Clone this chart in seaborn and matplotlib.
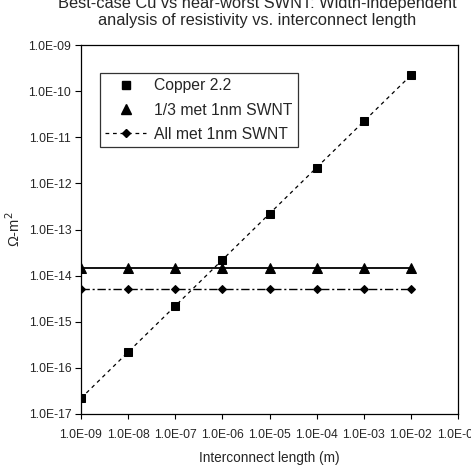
import matplotlib
matplotlib.use("Agg")
import matplotlib.pyplot as plt
from matplotlib.lines import Line2D
import seaborn as sns
import pandas as pd

# interconnect length (m)
longituds = [1e-9, 1e-8, 1e-7, 1e-6, 1e-5, 1e-4, 1e-3, 1e-2]
# resistivity x length values (Ohm-m^2)
coure = [2.2e-17, 2.2e-16, 2.2e-15, 2.2e-14, 2.2e-13, 2.2e-12, 2.2e-11, 2.2e-10]
swnt_terc = [1.5e-14, 1.5e-14, 1.5e-14, 1.5e-14, 1.5e-14, 1.5e-14, 1.5e-14, 1.5e-14]
swnt_tots = [5.2e-15, 5.2e-15, 5.2e-15, 5.2e-15, 5.2e-15, 5.2e-15, 5.2e-15, 5.2e-15]
noms = ["Copper 2.2", "1/3 met 1nm SWNT", "All met 1nm SWNT"]
xticks = [1e-9, 1e-8, 1e-7, 1e-6, 1e-5, 1e-4, 1e-3, 1e-2, 1e-1]
yticks = [1e-17, 1e-16, 1e-15, 1e-14, 1e-13, 1e-12, 1e-11, 1e-10, 1e-9]

df = pd.DataFrame({"L": longituds, noms[0]: coure, noms[1]: swnt_terc, noms[2]: swnt_tots})

sns.set_style("white")
plt.rcParams["font.family"] = ["Liberation Sans", "DejaVu Sans"]

fig = plt.figure(figsize=(4.71, 4.76), dpi=100)
ax = fig.add_axes([81 / 471, 1 - 414 / 476, 377 / 471, 369 / 476])

sns.lineplot(data=df, x="L", y=noms[0], ax=ax, color="black", marker="s", markersize=5.5,
             linestyle=(0, (3, 3)), linewidth=0.9, markeredgecolor="black")
sns.lineplot(data=df, x="L", y=noms[1], ax=ax, color="black", marker="^", markersize=6.5,
             linewidth=1.3, markeredgecolor="black")
sns.lineplot(data=df, x="L", y=noms[2], ax=ax, color="black", marker="D", markersize=4,
             linestyle=(0, (6, 2, 1.5, 2)), linewidth=1.0, markeredgecolor="black")

ax.set_xscale("log")
ax.set_yscale("log")
ax.set_xlim(1e-9, 1e-1)
ax.set_ylim(1e-17, 1e-9)
ax.set_xticks(xticks)
ax.set_yticks(yticks)
ax.set_xticklabels([f"{v:.1E}" for v in xticks])
ax.set_yticklabels([f"{v:.1E}" for v in yticks])
ax.minorticks_off()
ax.tick_params(axis="x", direction="out", length=3.5, width=0.8, pad=7.5, labelsize=8.7, color="black")
ax.tick_params(axis="y", direction="out", length=4, width=0.8, pad=3, labelsize=8.7, color="black")
ax.xaxis.set_ticks_position("bottom")
ax.yaxis.set_ticks_position("left")
for s in ax.spines.values():
    s.set_color("black")
    s.set_linewidth(0.9)

ax.set_xlabel("Interconnect length (m)", fontsize=9.8, labelpad=7)
ax.set_ylabel("Ω-m$^2$", fontsize=10.5, labelpad=4)

# llegenda com la d'Excel
handles = [
    Line2D([], [], color="black", marker="s", markersize=5.5, linestyle="none"),
    Line2D([], [], color="black", marker="^", markersize=6.5, linestyle="none"),
    Line2D([], [], color="black", marker="D", markersize=4, linestyle=(0, (3, 3)), linewidth=0.9),
]
leg = ax.legend(handles, noms, loc="upper left", bbox_to_anchor=(19 / 377, 1 - 28 / 369),
                frameon=True, fancybox=False, edgecolor="black", fontsize=11.3,
                handlelength=2.6, borderpad=0.35, labelspacing=0.58, handletextpad=0.5,
                borderaxespad=0)
leg.get_frame().set_linewidth(0.9)

fig.text(257 / 471, 1 - 12 / 476,
         "Best-case Cu vs near-worst SWNT: Width-independent\nanalysis of resistivity vs. interconnect length",
         ha="center", va="center", fontsize=11.8, linespacing=1.1)

fig.savefig("out.png", dpi=100)
